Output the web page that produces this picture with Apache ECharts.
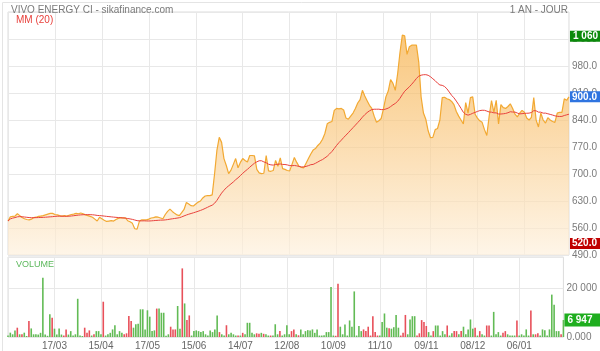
<!DOCTYPE html>
<html><head><meta charset="utf-8">
<script src="https://cdn.jsdelivr.net/npm/echarts@6/dist/echarts.min.js"></script>
<style>html,body{margin:0;padding:0;background:#fff}#c{width:600px;height:351px}</style>
</head><body><div id="c"></div>
<script>
const tickLabels = ['17/03','15/04','17/05','15/06','14/07','12/08','10/09','11/10','09/11','08/12','06/01'];
const price = [
578,589,590,591,597,592,587,584,582,581,
583,587,588,590,591,592,594,596,598,598,
595,594,592,591,592,591,593,595,596,598,
597,599,597,594,592,590,588,583,578,588,
584,580,577,578,579,578,582,585,587,586,
586,579,576,572,558,557,578,581,581,581,
583,586,587,589,588,586,584,595,603,609,
603,598,594,592,600,608,626,622,618,617,
622,627,630,638,643,644,644,646,700,761,
795,782,740,722,701,710,725,740,716,730,
740,735,731,748,748,747,712,703,701,702,
748,708,707,709,735,720,742,714,712,709,
708,725,743,730,720,717,716,728,740,752,
762,766,774,780,790,805,830,834,836,865,
870,869,870,866,845,842,850,858,870,884,
893,917,902,890,878,870,850,834,838,844,
870,900,915,945,935,917,960,1015,1060,1058,
1010,1030,1034,1034,1034,990,900,858,842,812,
794,795,815,818,840,898,899,895,893,888,
880,862,850,840,830,885,858,898,900,855,
845,838,834,815,800,850,890,860,891,830,
880,872,870,875,882,870,855,848,858,865,
860,845,840,847,898,840,822,858,840,832,
846,840,836,834,858,860,860,895,891,900];
const volume = [
600,1770,1100,2700,3800,1100,1100,1770,400,6500,
3500,1100,1100,1000,1700,24200,1000,500,9250,7900,
3400,1000,3500,1000,600,3100,1000,2400,600,1100,
15600,600,400,3800,1700,2700,600,1100,2400,2400,
1100,14400,600,1100,1700,3100,4800,1100,2400,1700,
1100,1500,8600,6500,3800,5200,5400,11300,11300,3100,
10900,8300,2400,2700,11600,11600,9900,9900,500,1100,
4200,3100,3100,12650,3400,28000,13700,6900,8800,600,
2400,2700,2400,2000,2400,1100,600,2700,2000,3100,
8800,2000,1100,600,4800,1100,1700,1100,600,600,
600,1700,1100,5800,5800,1700,1100,1500,1300,1700,
1300,1100,600,600,600,5200,1100,2400,600,1100,
4800,1100,2400,3100,1100,700,3100,1100,2400,2800,
2700,3100,1700,3100,600,600,700,2000,2000,20400,
600,500,21700,4200,1100,5100,600,6750,4200,18600,
600,4500,2400,3100,2400,4200,600,8500,2000,600,
600,6100,9600,3800,3600,3400,4000,9000,3800,600,
1700,9000,1100,7150,8500,8500,600,1500,6900,6100,
4500,2000,600,2400,4700,4700,600,2400,1100,4700,
600,1500,2400,2400,1100,2400,4200,1100,3100,7150,
3400,3800,600,2400,1100,600,4700,4700,600,10250,
1100,2000,600,1700,2400,1100,600,600,600,6750,
600,1100,600,3100,600,10800,1100,1100,1500,600,
3100,2800,600,3100,17300,13200,2400,2400,1100,6947];
const volUp = [
1,1,1,1,0,1,0,1,1,0, 1,1,1,1,1,1,1,1,1,0, 1,1,1,1,0,0,1,1,1,1, 1,1,1,0,0,0,1,0,1,1,
1,0,1,1,1,1,1,1,1,1, 0,0,0,0,1,1,1,1,1,1, 1,1,1,1,0,1,1,1,1,1, 0,0,0,1,1,0,1,0,0,1,
1,1,1,1,1,1,1,1,1,1, 1,0,1,1,0,1,1,1,1,0, 1,0,1,1,1,1,1,0,0,1, 0,1,1,0,1,1,1,0,1,1,
1,1,0,0,1,0,1,1,1,1, 1,1,1,1,1,1,1,1,1,1, 1,0,0,1,1,1,1,1,1,1, 1,1,1,0,0,0,0,0,0,0,
1,1,1,1,0,1,1,1,1,0, 0,0,1,1,1,1,0,0,0,0, 0,1,1,0,1,1,1,1,1,0, 1,1,0,0,1,0,1,1,1,1,
1,0,1,0,1,1,0,0,1,1, 1,1,1,0,0,1,1,1,1,0, 1,1,1,1,1,0,1,0,0,1, 1,1,1,1,1,1,1,1,0,1];
const maxMark = 1060, lastMark = 900, minMark = 520, lastVolume = 6947;
const MA_WINDOW = 20;

const categories = price.map((_, i) => i);
const ma = price.map((_, i) => {
  const s = Math.max(0, i - MA_WINDOW + 1);
  let sum = 0; for (let k = s; k <= i; k++) sum += price[k];
  return +(sum / (i - s + 1)).toFixed(2);
});
const fmtThousands = v => String(Math.round(v)).replace(/\B(?=(\d{3})+(?!\d))/g, ' ');
const FONT = 'Arial, "Liberation Sans", sans-serif';
const labelShown = idx => idx % 20 === 0 && idx > 0;
const gridLine = idx => idx % 20 === 0;

const chart = echarts.init(document.getElementById('c'), null, {renderer: 'canvas'});
chart.setOption({
  animation: false,
  textStyle: {fontFamily: FONT},
  title: [
    {text: 'VIVO ENERGY CI - sikafinance.com', left: 6, top: 0, textStyle: {fontSize: 10, color: '#7a7a7a', fontWeight: 'normal', fontFamily: FONT}},
    {text: '1 AN - JOUR', right: 27, top: 0, textStyle: {fontSize: 10, color: '#7a7a7a', fontWeight: 'normal', fontFamily: FONT}},
    {text: 'MM (20)', left: 11, top: 10, textStyle: {fontSize: 10, color: '#e8413c', fontWeight: 'normal', fontFamily: FONT}},
    {text: 'VOLUME', left: 11, top: 255, textStyle: {fontSize: 9, color: '#5cb85c', fontWeight: 'normal', fontFamily: FONT}}
  ],
  grid: [
    {left: 8, right: 30, top: 12, height: 243, show: true, borderColor: '#dcdcdc', borderWidth: 1},
    {left: 8, right: 30, top: 257, height: 80, show: true, borderColor: '#dcdcdc', borderWidth: 1}
  ],
  xAxis: [
    {type: 'category', gridIndex: 0, data: categories, boundaryGap: false,
     axisLine: {show: false}, axisTick: {show: false}, axisLabel: {show: false},
     splitLine: {show: true, interval: gridLine, lineStyle: {color: '#e8e8e8'}}},
    {type: 'category', gridIndex: 1, data: categories, boundaryGap: false,
     axisLine: {show: false}, axisTick: {show: false},
     axisLabel: {show: true, interval: labelShown, margin: 4, fontSize: 10, color: '#666', fontFamily: FONT,
       formatter: (v, idx) => tickLabels[Number(v) / 20 - 1] || ''},
     splitLine: {show: true, interval: gridLine, lineStyle: {color: '#e8e8e8'}}}
  ],
  yAxis: [
    {type: 'value', gridIndex: 0, position: 'right', min: 490, max: 1120, interval: 70,
     axisLine: {show: false}, axisTick: {show: false},
     axisLabel: {margin: 3, fontSize: 10, color: '#7a7a7a', showMaxLabel: false, fontFamily: FONT,
       formatter: v => v >= 1000 ? fmtThousands(v) : v.toFixed(1)},
     splitLine: {lineStyle: {color: '#e8e8e8'}}},
    {type: 'value', gridIndex: 1, position: 'right', min: 0, max: 32650, interval: 20000,
     axisLine: {show: false}, axisTick: {show: false},
     axisLabel: {margin: 3, fontSize: 10, color: '#7a7a7a', showMaxLabel: false, fontFamily: FONT,
       formatter: v => v === 0 ? '0.000' : fmtThousands(v)},
     splitLine: {lineStyle: {color: '#e8e8e8'}}}
  ],
  series: [
    {type: 'line', xAxisIndex: 0, yAxisIndex: 0, data: price, symbol: 'none', z: 2,
     lineStyle: {color: '#f2a933', width: 1.2},
     areaStyle: {origin: 'start', color: new echarts.graphic.LinearGradient(0, 0, 0, 1, [
       {offset: 0, color: '#f6b048'}, {offset: 0.45, color: '#f9cb88'}, {offset: 1, color: '#fdf0dd'}])},
     markLine: {silent: true, symbol: 'none', animation: false,
       lineStyle: {color: 'rgba(0,0,0,0)', width: 0},
       label: {position: 'end', distance: 1, color: '#fff', fontSize: 10, fontWeight: 'bold', fontFamily: FONT, padding: [1, 3, 0, 3]},
       data: [
         {yAxis: maxMark, label: {formatter: fmtThousands(maxMark), backgroundColor: '#0b8a0b', padding: [1, 8, 0, 3], offset: [0, 1]}},
         {yAxis: lastMark, label: {formatter: lastMark.toFixed(1), backgroundColor: '#2f74e0', padding: [1, 5, 0, 2]}},
         {yAxis: minMark, label: {formatter: minMark.toFixed(1), backgroundColor: '#c00000', padding: [1, 5, 0, 2]}}
       ]}},
    {type: 'line', xAxisIndex: 0, yAxisIndex: 0, data: ma, symbol: 'none', z: 3,
     lineStyle: {color: '#e8413c', width: 1}},
    {type: 'bar', xAxisIndex: 1, yAxisIndex: 1, data: volume, barWidth: 1.6,
     itemStyle: {color: p => volUp[p.dataIndex] ? '#62bb55' : '#e8505a'},
     markLine: {silent: true, symbol: 'none', animation: false,
       lineStyle: {color: 'rgba(0,0,0,0)', width: 0},
       label: {position: 'end', distance: 1, color: '#fff', fontSize: 10, fontWeight: 'bold', fontFamily: FONT},
       data: [{yAxis: lastVolume, label: {formatter: fmtThousands(lastVolume), backgroundColor: '#1fae1f', padding: [2, 8, 1, 3]}}]}}
  ],
  graphic: [{type: 'rect', left: 0, top: 0, shape: {width: 599, height: 350}, style: {fill: 'none', stroke: '#e4e4e4', lineWidth: 1}, silent: true}]
});
</script></body></html>
